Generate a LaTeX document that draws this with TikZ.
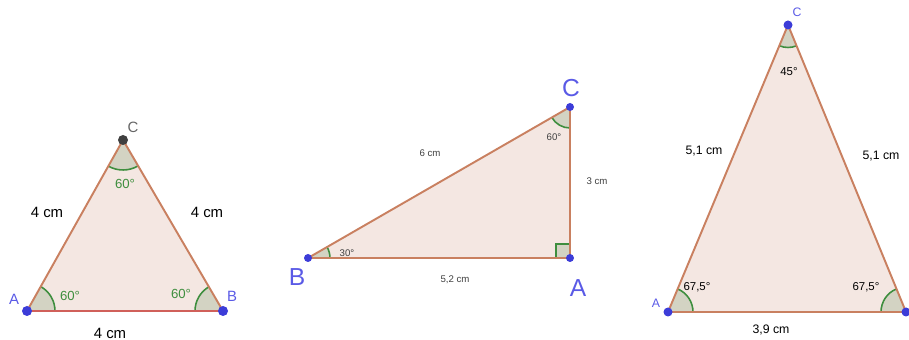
\documentclass[tikz,border=0pt]{standalone}
\usepackage{fontspec}
\setmainfont{Liberation Sans}
\usetikzlibrary{angles,positioning}
\definecolor{ggedge}{HTML}{C98060}
\definecolor{ggred}{HTML}{D0605A}
\definecolor{ggfill}{HTML}{F4E7E2}
\definecolor{ggangle}{HTML}{D3D3C3}
\definecolor{gggreen}{HTML}{3E8E3E}
\definecolor{ggblue}{HTML}{3C3CD8}
\definecolor{gglabel}{HTML}{5A5AE6}
\begin{document}
\begin{tikzpicture}[x=0.02cm,y=-0.02cm,font=\fontsize{8.5}{9}\selectfont,
 tri/.style={fill=ggfill},
 edge/.style={draw=ggedge,line width=1.1pt},
 ang/.style={draw=gggreen,fill=ggangle,line width=0.9pt},
 vdot/.style={circle,fill=ggblue,inner sep=0pt,minimum size=#1},
 vname/.style={text=gglabel},
 small/.style={font=\fontsize{5.5}{6}\selectfont,text=black!75}]
\useasboundingbox (0,0) rectangle (909,340);
% equilateral triangle
\coordinate (A1) at (27,311);
\coordinate (B1) at (223,311);
\coordinate (C1) at (123,140);
\fill[tri] (A1)--(B1)--(C1)--cycle;
\pic[ang,angle radius=0.56cm] {angle=B1--A1--C1};
\pic[ang,angle radius=0.56cm] {angle=C1--B1--A1};
\pic[ang,angle radius=0.6cm] {angle=A1--C1--B1};
\draw[edge] (B1)--(C1)--(A1);
\draw[edge,draw=ggred] (A1)--(B1);
\node[vdot=0.2cm] at (A1) {};
\node[vdot=0.2cm] at (B1) {};
\node[vdot=0.2cm,fill=black!75] at (C1) {};
\node[text=black!60] (lC1) at (133,127) {C};
\node[vname] (lA1) at (14,299) {A};
\node[vname] (lB1) at (232,296) {B};
\node (sAC1) at (47,212) {4 cm};
\node (sBC1) at (207,212) {4 cm};
\node (sAB1) at (110,333) {4 cm};
\node[text=gggreen,font=\fontsize{7.5}{8}\selectfont] (aC1) at (125,184) {60°};
\node[text=gggreen,font=\fontsize{7.5}{8}\selectfont] (aA1) at (70,296) {60°};
\node[text=gggreen,font=\fontsize{7.5}{8}\selectfont] (aB1) at (181,294) {60°};
% right triangle
\coordinate (B2) at (308,258);
\coordinate (A2) at (570,258);
\coordinate (C2) at (570,107);
\fill[tri] (B2)--(A2)--(C2)--cycle;
\pic[ang,angle radius=0.44cm] {angle=A2--B2--C2};
\pic[ang,angle radius=0.42cm] {angle=B2--C2--A2};
\pic[ang,angle radius=0.28cm] {right angle=C2--A2--B2};
\draw[edge] (B2)--(A2)--(C2)--cycle;
\node[vdot=0.16cm] at (B2) {};
\node[vdot=0.16cm] at (A2) {};
\node[vdot=0.16cm] at (C2) {};
\node[vname,font=\fontsize{14}{15}\selectfont] (lB2) at (297,277) {B};
\node[vname,font=\fontsize{14}{15}\selectfont] (lA2) at (578,288) {A};
\node[vname,font=\fontsize{14}{15}\selectfont] (lC2) at (571,88) {C};
\node[small] (sBC2) at (430,153) {6 cm};
\node[small] (sAC2) at (597,181) {3 cm};
\node[small] (sAB2) at (455,280) {5,2 cm};
\node[small] (aB2) at (347,253) {30°};
\node[small] (aC2) at (554,137) {60°};
% isosceles triangle
\coordinate (A3) at (668,312);
\coordinate (B3) at (906,312);
\coordinate (C3) at (788,25);
\fill[tri] (A3)--(B3)--(C3)--cycle;
\pic[ang,angle radius=0.5cm] {angle=B3--A3--C3};
\pic[ang,angle radius=0.5cm] {angle=C3--B3--A3};
\pic[ang,angle radius=0.45cm] {angle=A3--C3--B3};
\draw[edge] (A3)--(B3)--(C3)--cycle;
\node[vdot=0.18cm] at (A3) {};
\node[vdot=0.18cm] at (B3) {};
\node[vdot=0.18cm] at (C3) {};
\node[vname,font=\fontsize{7}{8}\selectfont] (lC3) at (797,12) {C};
\node[vname,font=\fontsize{7}{8}\selectfont] (lA3) at (656,303) {A};
\node[font=\fontsize{7}{8}\selectfont] (sAC3) at (704,151) {5,1 cm};
\node[font=\fontsize{7}{8}\selectfont] (sBC3) at (881,156) {5,1 cm};
\node[font=\fontsize{7}{8}\selectfont] (sAB3) at (771,330) {3,9 cm};
\node[font=\fontsize{6.5}{7}\selectfont] (aC3) at (789,72) {45°};
\node[font=\fontsize{6.5}{7}\selectfont] (aA3) at (697,287) {67,5°};
\node[font=\fontsize{6.5}{7}\selectfont] (aB3) at (866,287) {67,5°};
\end{tikzpicture}
\end{document}
